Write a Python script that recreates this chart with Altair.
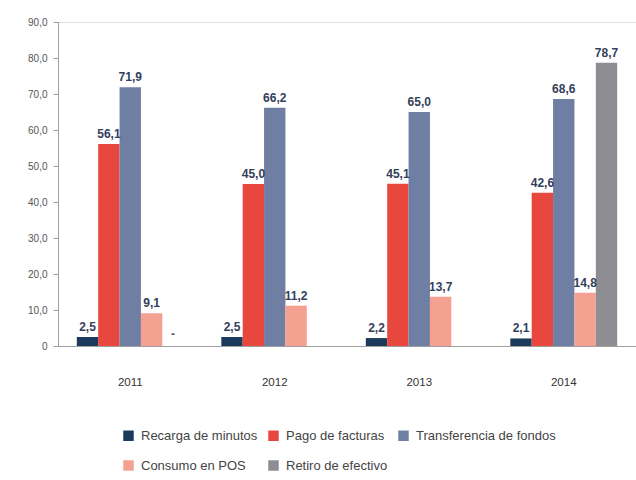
import altair as alt
import pandas as pd

years = ["2011", "2012", "2013", "2014"]
series = ["Recarga de minutos", "Pago de facturas", "Transferencia de fondos",
          "Consumo en POS", "Retiro de efectivo"]
recarga = [2.5, 2.5, 2.2, 2.1]
pago = [56.1, 45.0, 45.1, 42.6]
transferencia = [71.9, 66.2, 65.0, 68.6]
consumo = [9.1, 11.2, 13.7, 14.8]
retiro = [None, None, None, 78.7]
dash_years = ["2011"]  # "-" marker shown for missing Retiro value
y_ticks = [0, 10, 20, 30, 40, 50, 60, 70, 80, 90]
colors = {"Recarga de minutos": "#1b3a5c", "Pago de facturas": "#e8473e",
          "Transferencia de fondos": "#6f7fa3", "Consumo en POS": "#f5a192",
          "Retiro de efectivo": "#8e8e92"}
# legend fills column-wise: order so that rows read as in the reference
legend_order = ["Recarga de minutos", "Consumo en POS", "Pago de facturas",
                "Retiro de efectivo", "Transferencia de fondos"]

values = [recarga, pago, transferencia, consumo, retiro]
rows = []
for s, vals in zip(series, values):
    for y, v in zip(years, vals):
        rows.append({"year": y, "serie": s, "v": v})
df = pd.DataFrame(rows)
df_valid = df.dropna()
dash_df = pd.DataFrame({"year": dash_years, "serie": ["Retiro de efectivo"] * len(dash_years),
                        "v": [0] * len(dash_years)})

x = alt.X("year:N", sort=years, title=None,
          scale=alt.Scale(paddingInner=0, paddingOuter=0),
          axis=alt.Axis(labelAngle=0, ticks=False, labelPadding=30, labelFontSize=11.5,
                        labelColor="#333333", labelFont="Liberation Sans",
                        domainColor="#a0a0a0", domainWidth=1.2))
xo = alt.XOffset("serie:N", sort=series,
                 scale=alt.Scale(domain=series, paddingInner=0, paddingOuter=0.88))
yenc = alt.Y("v:Q", title=None,
             scale=alt.Scale(domain=[0, 90], nice=False),
             axis=alt.Axis(values=y_ticks, grid=False, tickSize=5,
                           labelOverlap=False, labelFlush=False,
                           labelExpr="datum.value == 0 ? '0' : replace(format(datum.value, '.1f'), '.', ',')",
                           labelFontSize=10, labelColor="#555555", labelFont="Liberation Sans",
                           labelPadding=6, domainColor="#a0a0a0", tickColor="#a0a0a0"))

bars = alt.Chart(df_valid).mark_bar().encode(
    x=x,
    xOffset=xo,
    y=yenc,
    color=alt.Color("serie:N",
                    scale=alt.Scale(domain=legend_order,
                                    range=[colors[s] for s in legend_order]),
                    legend=alt.Legend(title=None, orient="none", legendX=64, legendY=407,
                                      columns=3, symbolType="square", symbolSize=110,
                                      symbolStrokeWidth=0, labelFontSize=13,
                                      labelFont="Liberation Sans", labelColor="#444444",
                                      rowPadding=16, columnPadding=9, labelOffset=6,
                                      labelLimit=300)),
)

labels = alt.Chart(df_valid).transform_calculate(
    label="replace(format(datum.v, '.1f'), '.', ',')"
).mark_text(dy=-10, fontWeight="bold", fontSize=12, color="#33405a",
            font="Liberation Sans").encode(
    x=x, xOffset=xo, y=yenc, text="label:N"
)

dash = alt.Chart(dash_df).mark_text(dy=-12, fontWeight="bold", fontSize=12, color="#555555",
                                    font="Liberation Sans").encode(
    x=x, xOffset=xo, y=yenc, text=alt.value("-")
)

chart = alt.layer(bars, labels, dash).properties(
    width=578, height=324,
    autosize=alt.AutoSizeParams(type="none"),
    padding={"left": 58, "top": 22, "right": 0, "bottom": 134},
).configure_view(stroke=None).configure(background="white")

chart.save("out.html", embed_options={"renderer": "svg", "actions": False})
